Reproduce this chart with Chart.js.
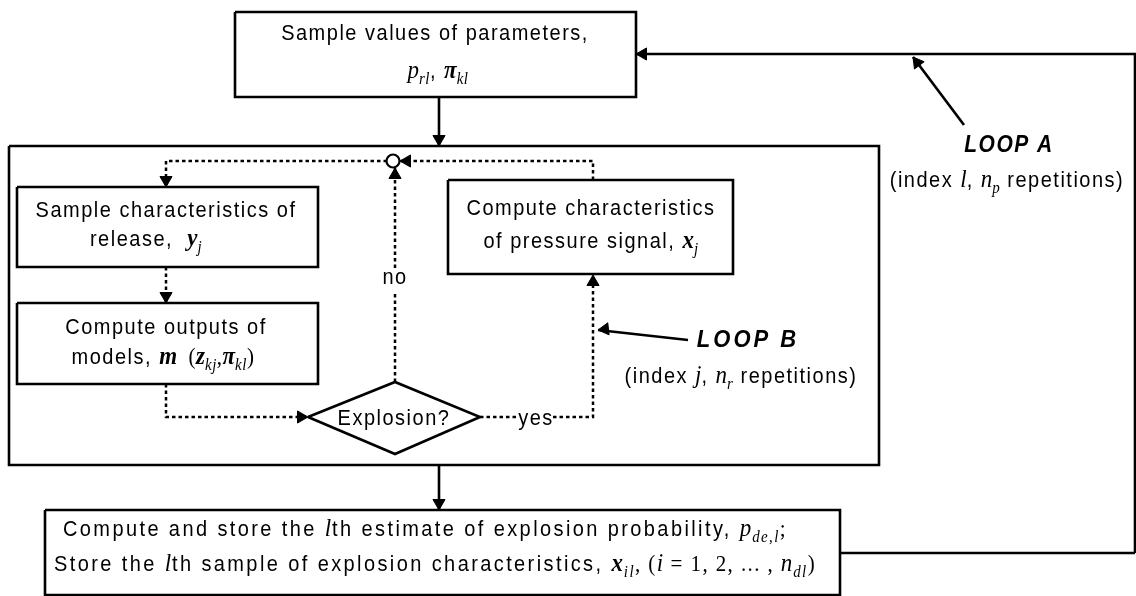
<!DOCTYPE html>
<html>
<head>
<meta charset="utf-8">
<script src="https://cdn.jsdelivr.net/npm/chart.js@4.4.1/dist/chart.umd.min.js"></script>
<style>
  body { margin: 0; background: #fff; }
  canvas { display: block; }
</style>
</head>
<body>
<canvas id="flujo" width="1136" height="596"></canvas>
<script>
// textos del diagrama (segmentos: [texto, estilo])
const textoParametros = [
  [['Sample values of parameters,', 'r']],
  [['p', 'i'], ['rl', 's'], [', ', 'r'], ['π', 'b'], ['kl', 's']]
];
const textoLiberacion = [
  [['Sample characteristics of', 'r']],
  [['release,  ', 'r'], ['y', 'b'], ['j', 's']]
];
const textoModelos = [
  [['Compute outputs of', 'r']],
  [['models, ', 'r'], ['m', 'b'], ['  (', 't'], ['z', 'b'], ['kj', 's'], [',', 't'], ['π', 'b'], ['kl', 's'], [')', 't']]
];
const textoSenal = [
  [['Compute characteristics', 'r']],
  [['of pressure signal, ', 'r'], ['x', 'b'], ['j', 's']]
];
const textoDecision = [[['Explosion?', 'r']]];
const textoNo = [[['no', 'r']]];
const textoSi = [[['yes', 'r']]];
const textoLoopA = [
  [['LOOP A', 'L']],
  [['(index ', 'r'], ['l', 'i'], [', ', 'r'], ['n', 'i'], ['p', 's'], [' repetitions)', 'r']]
];
const textoLoopB = [
  [['LOOP B', 'LB']],
  [['(index ', 'r'], ['j', 'i'], [', ', 'r'], ['n', 'i'], ['r', 's'], [' repetitions)', 'r']]
];
const textoFinal = [
  [['Compute and store the ', 'r'], ['l', 'i'], ['th estimate of explosion probability, ', 'r'], ['p', 'i'], ['de,l', 's'], [';', 't']],
  [['Store the ', 'r'], ['l', 'i'], ['th sample of explosion characteristics, ', 'r'], ['x', 'b'], ['il', 's'], [', (', 't'], ['i', 'i'], [' = 1, 2, ... , ', 't'], ['n', 'i'], ['dl', 's'], [')', 't']]
];

/* posiciones (en unidades de los ejes) */
const cajas = [
  [235, 12, 636, 97],    // parametros
  [9, 146, 879, 465],    // caja exterior
  [17, 187, 318, 267],   // liberacion
  [17, 303, 318, 384],   // modelos
  [448, 180, 733, 274],  // senal
  [45, 510, 840, 595]    // final
];
const rombo = [[308, 417], [395, 382], [480, 417], [395, 454], [308, 417]];

const lineasSolidas = [
  [[1135, 553], [840, 553]],
  [[1135, 553], [1135, 54], [636, 54]],
  [[439, 97], [439, 146]],
  [[439, 465], [439, 510]],
  [[964, 125], [913, 57]],
  [[688, 340], [598, 330]]
];
const lineasPunteadas = [
  [[387, 161], [166, 161], [166, 187]],
  [[166, 267], [166, 303]],
  [[166, 384], [166, 417], [308, 417]],
  [[395, 382], [395, 293]],
  [[395, 268], [395, 168]],
  [[480, 417], [518, 417]],
  [[553, 417], [593, 417], [593, 275]],
  [[593, 180], [593, 161], [400, 161]]
];
// puntas de flecha: [x, y, angulo] (0 = arriba)
const flechas = [
  [636, 54, 270],
  [439, 146, 180],
  [439, 510, 180],
  [913, 57, -36.9],
  [598, 330, -96.3],
  [166, 187, 180],
  [166, 303, 180],
  [308, 417, 90],
  [395, 168, 0],
  [593, 275, 0],
  [400, 161, 270]
];

const etiquetas = [
  { lineas: textoParametros, pos: [[435, 40], [438, 78]], extra: 0 },
  { lineas: textoLiberacion, pos: [[166, 217], [146, 246]], extra: 0 },
  { lineas: textoModelos, pos: [[166, 334], [163, 364]], extra: 0 },
  { lineas: textoSenal, pos: [[591, 215], [591, 248]], extra: 0 },
  { lineas: textoDecision, pos: [[394, 425]], extra: 0 },
  { lineas: textoNo, pos: [[395, 284]], extra: 0 },
  { lineas: textoSi, pos: [[536, 425]], extra: 0 },
  { lineas: textoLoopA, pos: [[1009, 152], [1007, 187]], extra: 0 },
  { lineas: textoLoopB, pos: [[748, 347], [741, 383]], extra: 0 },
  { lineas: textoFinal, pos: [[425, 536], [435, 571]], extra: 0.9 }
];

const estilos = {
  r: { font: '20px "Liberation Sans"', ls: 1.5, dy: 0 },
  t: { font: '21px "Liberation Serif"', ls: 0.5, dy: 0 },
  i: { font: 'italic 23px "Liberation Serif"', ls: 0, dy: 0 },
  b: { font: 'bold italic 23px "Liberation Serif"', ls: 0, dy: 0 },
  s: { font: 'italic 15px "Liberation Serif"', ls: 0.5, dy: 6 },
  L: { font: 'bold italic 21px "Liberation Sans"', ls: 1.5, dy: 0 },
  LB: { font: 'bold italic 22px "Liberation Sans"', ls: 3, dy: 0 }
};

function punto(p) { return { x: p[0], y: p[1] }; }

function linea(puntos, punteada) {
  return {
    data: puntos.map(punto),
    showLine: true,
    borderColor: '#000',
    borderWidth: punteada ? 2.5 : 2.6,
    borderDash: punteada ? [3.5, 3] : [],
    pointRadius: 0,
    fill: false,
    tension: 0,
    clip: false,
    order: 2
  };
}

const datasets = [];
cajas.forEach(c => {
  datasets.push(linea([[c[0], c[1]], [c[2], c[1]], [c[2], c[3]], [c[0], c[3]], [c[0], c[1]]], false));
});
datasets.push(linea(rombo, false));
lineasSolidas.forEach(l => datasets.push(linea(l, false)));
lineasPunteadas.forEach(l => datasets.push(linea(l, true)));

// circulo de union
datasets.push({
  data: [{ x: 393, y: 161 }],
  pointRadius: 6.5,
  pointBackgroundColor: '#fff',
  pointBorderColor: '#000',
  pointBorderWidth: 2.2,
  clip: false,
  order: 0
});

// puntas de flecha con pointStyle triangle
const radioFlecha = 7;
datasets.push({
  data: flechas.map(f => {
    const a = f[2] * Math.PI / 180;
    return { x: f[0] - Math.sin(a) * radioFlecha, y: f[1] + Math.cos(a) * radioFlecha };
  }),
  pointStyle: 'triangle',
  pointRotation: flechas.map(f => f[2]),
  pointRadius: radioFlecha,
  pointBackgroundColor: '#000',
  pointBorderColor: '#000',
  pointBorderWidth: 1,
  clip: false,
  order: 0
});

function dibujarLinea(ctx, segs, cx, y, extra) {
  let total = 0;
  const medidas = segs.map(s => {
    const e = estilos[s[1]];
    ctx.font = e.font;
    ctx.letterSpacing = (e.ls + extra) + 'px';
    const w = ctx.measureText(s[0]).width;
    total += w;
    return w;
  });
  let x = cx - total / 2;
  segs.forEach((s, k) => {
    const e = estilos[s[1]];
    ctx.font = e.font;
    ctx.letterSpacing = (e.ls + extra) + 'px';
    ctx.save();
    ctx.translate(x, y + e.dy);
    ctx.scale(1, 1.1);
    ctx.fillText(s[0], 0, 0);
    ctx.restore();
    x += medidas[k];
  });
}

const pluginTextos = {
  id: 'textos',
  afterDatasetsDraw(chart) {
    const ctx = chart.ctx;
    const sx = chart.scales.x, sy = chart.scales.y;
    ctx.save();
    ctx.fillStyle = '#000';
    ctx.textBaseline = 'alphabetic';
    ctx.textAlign = 'left';
    etiquetas.forEach(et => {
      et.lineas.forEach((segs, k) => {
        const p = et.pos[k];
        dibujarLinea(ctx, segs, sx.getPixelForValue(p[0]), sy.getPixelForValue(p[1]), et.extra);
      });
    });
    ctx.restore();
  }
};

new Chart(document.getElementById('flujo'), {
  type: 'scatter',
  data: { datasets: datasets },
  options: {
    responsive: false,
    animation: false,
    layout: { padding: 0, autoPadding: false },
    plugins: { legend: { display: false }, tooltip: { enabled: false } },
    scales: {
      x: { type: 'linear', min: 0, max: 1136, display: false },
      y: { type: 'linear', min: 0, max: 596, reverse: true, display: false }
    }
  },
  plugins: [pluginTextos]
});
</script>
</body>
</html>
